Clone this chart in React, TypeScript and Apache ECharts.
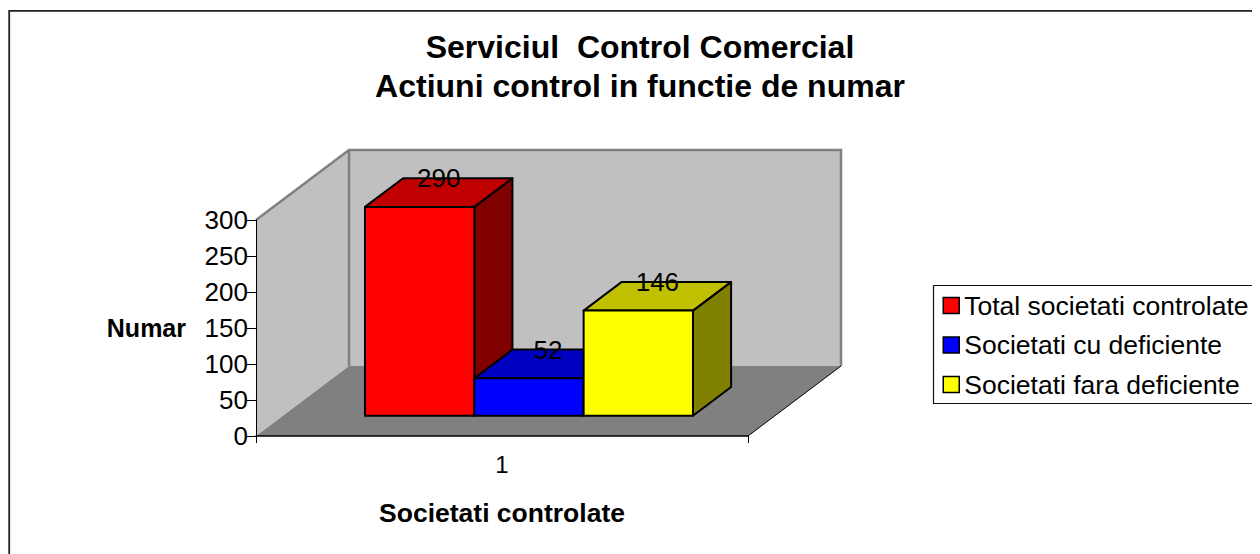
import React, { useEffect, useRef } from 'react';
import * as echarts from 'echarts';

// ---- data ----
const categories = ['1'];
const seriesNames = ['Total societati controlate', 'Societati cu deficiente', 'Societati fara deficiente'];
const seriesValues = [290, 52, 146];
const yTicks = [0, 50, 100, 150, 200, 250, 300];
const titleLines = ['Serviciul  Control Comercial', 'Actiuni control in functie de numar'];
const yAxisName = 'Numar';
const xAxisName = 'Societati controlate';

// ---- styles ----
const frontColors = ['#ff0000', '#0000ff', '#ffff00'];
const topColors = ['#c00000', '#0000c0', '#c0c000'];
const sideColors = ['#800000', '#000080', '#808000'];
const FONT = '"Liberation Sans", Arial, Helvetica, sans-serif';
const WALL_DX = 93;
const WALL_DY = -70;
const BAR_FRONT = 0.29;
const BAR_BACK = 0.7;
const GAP = 1.5;

export default function App() {
  const ref = useRef<HTMLDivElement>(null);
  useEffect(() => {
    if (!ref.current) return;
    const prevOverflow = document.body.style.overflow;
    document.body.style.overflow = 'hidden';
    const chart = echarts.init(ref.current, undefined, { renderer: 'svg' });
    const yMin = yTicks[0];
    const yMax = yTicks[yTicks.length - 1];
    const n = seriesValues.length;

    const wallSeries: any = {
      type: 'custom',
      name: '__walls',
      z: -1,
      silent: true,
      data: [[0, yMax]],
      renderItem: (params: any, api: any) => {
        const c0 = api.coord([0, yMin]);
        const c1 = api.coord([0, yMax]);
        const bw = api.size([1, 0])[0];
        const x0 = c0[0] - bw / 2;
        const x1 = c0[0] + bw / 2;
        const y0 = c0[1];
        const yT = c1[1];
        const dx = WALL_DX;
        const dy = WALL_DY;
        return {
          type: 'group',
          children: [
            { type: 'polygon', shape: { points: [[x0, yT], [x0 + dx, yT + dy], [x0 + dx, y0 + dy], [x0, y0]] }, style: { fill: '#c0c0c0' } },
            { type: 'polygon', shape: { points: [[x0 + dx, yT + dy], [x1 + dx, yT + dy], [x1 + dx, y0 + dy], [x0 + dx, y0 + dy]] }, style: { fill: '#c0c0c0' } },
            { type: 'polygon', shape: { points: [[x0, y0], [x1, y0], [x1 + dx, y0 + dy], [x0 + dx, y0 + dy]] }, style: { fill: '#808080' } },
            { type: 'polyline', shape: { points: [[x0, yT], [x0 + dx, yT + dy], [x1 + dx, yT + dy], [x1 + dx, y0 + dy]] }, style: { fill: 'none', stroke: '#808080', lineWidth: 2.5 } },
            { type: 'line', shape: { x1: x0 + dx, y1: yT + dy, x2: x0 + dx, y2: y0 + dy }, style: { stroke: '#808080', lineWidth: 2.5 } },
            { type: 'line', shape: { x1: x1, y1: y0, x2: x1 + dx, y2: y0 + dy }, style: { stroke: '#000', lineWidth: 1 } },
          ],
        };
      },
    };

    const barSeries: any[] = seriesNames.map((name, i) => ({
      type: 'custom',
      name,
      z: 2,
      itemStyle: { color: frontColors[i] },
      data: categories.map((_, j) => [j, seriesValues[i]]),
      renderItem: (params: any, api: any) => {
        const cat = api.value(0);
        const v = api.value(1);
        const base = api.coord([cat, 0]);
        const top = api.coord([cat, v]);
        const bw = api.size([1, 0])[0];
        const barW = bw / (n + GAP);
        const fx = WALL_DX * BAR_FRONT;
        const fy = WALL_DY * BAR_FRONT;
        const ddx = WALL_DX * (BAR_BACK - BAR_FRONT);
        const ddy = WALL_DY * (BAR_BACK - BAR_FRONT);
        const xl = base[0] - bw / 2 + (GAP / 2 + i) * barW + fx;
        const xr = xl + barW;
        const yb = base[1] + fy;
        const yt = top[1] + fy;
        const edge = { stroke: '#000', lineWidth: 2, lineJoin: 'round' };
        return {
          type: 'group',
          children: [
            { type: 'polygon', shape: { points: [[xr, yt], [xr + ddx, yt + ddy], [xr + ddx, yb + ddy], [xr, yb]] }, style: { fill: sideColors[i], ...edge } },
            { type: 'polygon', shape: { points: [[xl, yt], [xl + ddx, yt + ddy], [xr + ddx, yt + ddy], [xr, yt]] }, style: { fill: topColors[i], ...edge } },
            { type: 'polygon', shape: { points: [[xl, yt], [xr, yt], [xr, yb], [xl, yb]] }, style: { fill: frontColors[i], ...edge } },
            {
              type: 'text',
              x: (xl + xr) / 2 + ddx / 2,
              y: yt + ddy,
              style: { text: String(v), fill: '#000', font: `26px ${FONT}`, align: 'center', verticalAlign: 'middle' },
            },
          ],
        };
      },
    }));

    chart.setOption({
      animation: false,
      backgroundColor: '#fff',
      title: {
        text: titleLines.join('\n'),
        left: 632,
        top: 20,
        padding: 0,
        textAlign: 'center',
        textStyle: { fontSize: 32, fontWeight: 'bold', lineHeight: 38.5, fontFamily: FONT, color: '#000' },
      },
      legend: {
        data: seriesNames,
        orient: 'vertical',
        left: 925.5,
        top: 277,
        padding: [7, 0, 7, 9],
        borderWidth: 0,
        itemWidth: 16,
        itemHeight: 16,
        itemGap: 12.5,
        icon: 'rect',
        itemStyle: { borderColor: '#000', borderWidth: 1.5 },
        textStyle: { fontSize: 26.5, fontFamily: FONT, color: '#000' },
      },
      grid: { left: 248, top: 212, width: 492, height: 216, containLabel: false },
      xAxis: {
        type: 'category',
        data: categories,
        axisLine: { show: true, lineStyle: { color: '#000', width: 1.5 } },
        axisTick: { show: true, length: 7, lineStyle: { color: '#000', width: 1 } },
        axisLabel: { fontSize: 24, fontFamily: FONT, color: '#000', margin: 16 },
        splitLine: { show: false },
        name: xAxisName,
        nameLocation: 'middle',
        nameGap: 63,
        nameTextStyle: { fontSize: 26.5, fontWeight: 'bold', fontFamily: FONT, color: '#000' },
      },
      yAxis: {
        type: 'value',
        min: yMin,
        max: yMax,
        interval: yTicks[1] - yTicks[0],
        axisLine: { show: true, lineStyle: { color: '#000', width: 1 } },
        axisTick: { show: true, length: 9, lineStyle: { color: '#000', width: 1 } },
        axisLabel: { fontSize: 26, fontFamily: FONT, color: '#000', margin: 8 },
        splitLine: { show: false },
        name: yAxisName,
        nameLocation: 'middle',
        nameRotate: 0,
        nameGap: 70,
        nameTextStyle: { fontSize: 25, fontWeight: 'bold', fontFamily: FONT, color: '#000' },
      },
      graphic: [
        {
          type: 'rect',
          silent: true,
          z: -10,
          shape: { x: 1.2, y: 2.8, width: 1400, height: 800 },
          style: { fill: 'none', stroke: '#222', lineWidth: 1.8 },
        },
        {
          type: 'polyline',
          silent: true,
          z: -5,
          shape: { points: [[1320, 277.5], [925.5, 277.5], [925.5, 395.5], [1320, 395.5]] },
          style: { fill: 'none', stroke: '#111', lineWidth: 1.2 },
        },
      ],
      series: [wallSeries, ...barSeries],
    });
    return () => {
      chart.dispose();
      document.body.style.overflow = prevOverflow;
    };
  }, []);
  return <div ref={ref} style={{ width: 1320, height: 600 }} />;
}
